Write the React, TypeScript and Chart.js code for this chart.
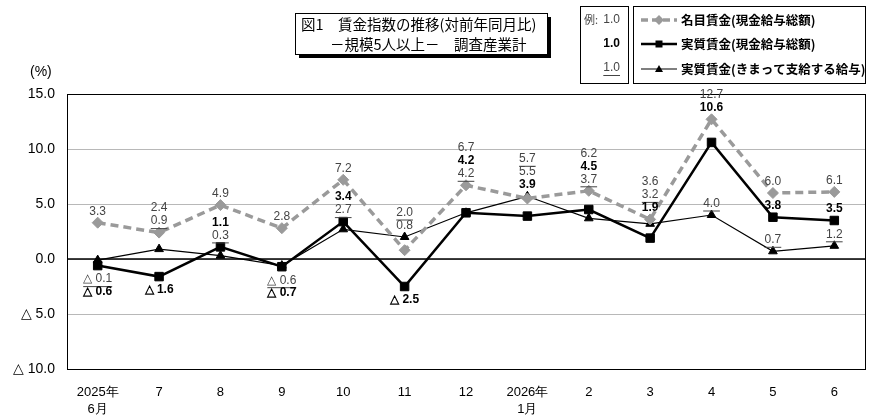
import React, { useEffect, useRef } from "react";
import { Chart, registerables } from "chart.js";

Chart.register(...registerables);

const categories = [
  ["2025年", "6月"],
  "7",
  "8",
  "9",
  "10",
  "11",
  "12",
  ["2026年", "1月"],
  "2",
  "3",
  "4",
  "5",
  "6",
];

// 名目賃金（現金給与総額）
const nominalWage = [3.3, 2.4, 4.9, 2.8, 7.2, 0.8, 6.7, 5.5, 6.2, 3.6, 12.7, 6.0, 6.1];
// 実質賃金（現金給与総額）
const realWage = [-0.6, -1.6, 1.1, -0.7, 3.4, -2.5, 4.2, 3.9, 4.5, 1.9, 10.6, 3.8, 3.5];
// 実質賃金（きまって支給する給与）
const realScheduled = [-0.1, 0.9, 0.3, -0.6, 2.7, 2.0, 4.2, 5.7, 3.7, 3.2, 4.0, 0.7, 1.2];

const yTicks = [15, 10, 5, 0, -5, -10];

const seriesNames = [
  "名目賃金(現金給与総額)",
  "実質賃金(現金給与総額)",
  "実質賃金(きまって支給する給与)",
];
const seriesValues = [nominalWage, realWage, realScheduled];

// which labels stack together per month (series index, top to bottom)
type Group = [number[], "up" | "down"];
const labelGroups: Group[][] = [
  [[[0], "up"], [[2, 1], "down"]],
  [[[0, 2], "up"], [[1], "down"]],
  [[[0], "up"], [[1, 2], "up"]],
  [[[0], "up"], [[2, 1], "down"]],
  [[[0], "up"], [[1, 2], "up"]],
  [[[2, 0], "up"], [[1], "down"]],
  [[[0, 1, 2], "up"]],
  [[[2, 0, 1], "up"]],
  [[[0, 1, 2], "up"]],
  [[[0, 2, 1], "up"]],
  [[[0, 1], "up"], [[2], "up"]],
  [[[0], "up"], [[1], "up"], [[2], "up"]],
  [[[0], "up"], [[1], "up"], [[2], "up"]],
];

const NUM_FONT = '"Liberation Sans", Arial, sans-serif';
const JP_FONT = '"Noto Sans CJK JP", "Noto Sans", sans-serif';
const GREY = "#9a9a9a";

const fmt = (v: number) => (v < 0 ? `△ ${Math.abs(v).toFixed(1)}` : v.toFixed(1));

function drawValue(ctx: CanvasRenderingContext2D, x: number, y: number, text: string, series: number, align: CanvasTextAlign = "center") {
  ctx.save();
  ctx.font = series === 1 ? `bold 12px ${NUM_FONT}` : `12px ${NUM_FONT}`;
  ctx.fillStyle = series === 1 ? "#000" : "#444";
  ctx.textAlign = align;
  ctx.textBaseline = "middle";
  ctx.fillText(text, x, y);
  if (series === 2) {
    const w = ctx.measureText(text).width;
    const x0 = align === "center" ? x - w / 2 : align === "right" ? x - w : x;
    ctx.strokeStyle = "#444";
    ctx.lineWidth = 1;
    ctx.beginPath();
    ctx.moveTo(x0, y + 7.5);
    ctx.lineTo(x0 + w, y + 7.5);
    ctx.stroke();
  }
  ctx.restore();
}

const framePlugin = {
  id: "frame",
  beforeDatasetsDraw(chart: any) {
    const { ctx, chartArea } = chart;
    ctx.save();
    ctx.strokeStyle = "#000";
    ctx.lineWidth = 1;
    ctx.strokeRect(chartArea.left + 0.5, chartArea.top + 0.5, chartArea.right - chartArea.left, chartArea.bottom - chartArea.top);
    const y0 = chart.scales.y.getPixelForValue(0);
    ctx.lineWidth = 1.5;
    ctx.beginPath();
    ctx.moveTo(chartArea.left, y0);
    ctx.lineTo(chartArea.right, y0);
    ctx.stroke();
    ctx.restore();
  },
};

const labelsPlugin = {
  id: "valueLabels",
  afterDatasetsDraw(chart: any) {
    const ctx = chart.ctx as CanvasRenderingContext2D;
    const gap = 11.5;
    const step = 13;
    labelGroups.forEach((groups, i) => {
      const x = chart.getDatasetMeta(0).data[i].x;
      groups.forEach(([series, dir]) => {
        const ys = series.map((s) => chart.getDatasetMeta(s).data[i].y);
        const n = series.length;
        series.forEach((s, k) => {
          const ty =
            dir === "up"
              ? Math.min(...ys) - gap - (n - 1 - k) * step
              : Math.max(...ys) + gap + 2 + k * (step - 0.5);
          drawValue(ctx, x, ty, fmt(seriesValues[s][i]), s);
        });
      });
    });
  },
};

const decorPlugin = {
  id: "decor",
  afterDraw(chart: any) {
    const ctx = chart.ctx as CanvasRenderingContext2D;
    ctx.save();

    // (%)
    ctx.fillStyle = "#000";
    ctx.font = `14px ${NUM_FONT}`;
    ctx.textBaseline = "middle";
    ctx.textAlign = "left";
    ctx.fillText("(%)", 30, 72);

    // title box
    ctx.fillStyle = "#000";
    ctx.fillRect(299, 54, 252, 4);
    ctx.fillRect(547, 17, 4, 41);
    ctx.fillStyle = "#fff";
    ctx.fillRect(295, 13, 252, 41);
    ctx.strokeStyle = "#000";
    ctx.lineWidth = 1;
    ctx.strokeRect(295.5, 13.5, 252, 41);
    ctx.fillStyle = "#000";
    ctx.font = `14.5px ${JP_FONT}`;
    ctx.fillText("図1　賃金指数の推移(対前年同月比)", 301, 24);
    ctx.fillText("－規模5人以上－　調査産業計", 330, 44);

    // legend: sample box
    ctx.strokeRect(580.5, 6.5, 48, 77);
    ctx.font = `11px ${JP_FONT}`;
    ctx.fillStyle = "#444";
    ctx.textAlign = "left";
    ctx.fillText("例:", 584, 20);
    drawValue(ctx, 620, 20, "1.0", 0, "right");
    drawValue(ctx, 620, 44, "1.0", 1, "right");
    drawValue(ctx, 620, 68, "1.0", 2, "right");

    // legend: series box
    ctx.strokeStyle = "#000";
    ctx.lineWidth = 1;
    ctx.strokeRect(633.5, 6.5, 232, 77);
    const rows = [20, 44, 69];
    rows.forEach((ry, s) => {
      ctx.save();
      ctx.beginPath();
      if (s === 0) {
        ctx.strokeStyle = GREY;
        ctx.lineWidth = 3.5;
        ctx.setLineDash([7, 4]);
      } else {
        ctx.strokeStyle = "#000";
        ctx.lineWidth = s === 1 ? 2.5 : 1.2;
      }
      ctx.moveTo(641, ry);
      ctx.lineTo(677, ry);
      ctx.stroke();
      ctx.setLineDash([]);
      ctx.fillStyle = s === 0 ? GREY : "#000";
      ctx.beginPath();
      if (s === 0) {
        ctx.moveTo(659, ry - 5);
        ctx.lineTo(664, ry);
        ctx.lineTo(659, ry + 5);
        ctx.lineTo(654, ry);
      } else if (s === 1) {
        ctx.rect(655.5, ry - 3.5, 7, 7);
      } else {
        ctx.moveTo(659, ry - 4);
        ctx.lineTo(663, ry + 3);
        ctx.lineTo(655, ry + 3);
      }
      ctx.closePath();
      ctx.fill();
      ctx.restore();
      ctx.fillStyle = "#000";
      ctx.font = `bold 12.5px ${JP_FONT}`;
      ctx.textAlign = "left";
      ctx.fillText(seriesNames[s], 681, ry);
    });

    ctx.restore();
  },
};

const App: React.FC = () => {
  const canvasRef = useRef<HTMLCanvasElement>(null);
  const chartRef = useRef<Chart | null>(null);

  useEffect(() => {
    if (!canvasRef.current) return;
    if (chartRef.current) chartRef.current.destroy();

    chartRef.current = new Chart(canvasRef.current, {
      type: "line",
      data: {
        labels: categories as any,
        datasets: [
          {
            label: seriesNames[0],
            data: nominalWage,
            borderColor: GREY,
            backgroundColor: GREY,
            borderWidth: 3.5,
            borderDash: [8, 5],
            pointStyle: "rectRot",
            pointRadius: 5.5,
            pointBackgroundColor: GREY,
            pointBorderColor: GREY,
            pointBorderWidth: 1,
            tension: 0,
          },
          {
            label: seriesNames[1],
            data: realWage,
            borderColor: "#000",
            backgroundColor: "#000",
            borderWidth: 2.5,
            pointStyle: "rect",
            pointRadius: 6,
            pointBackgroundColor: "#000",
            pointBorderColor: "#000",
            pointBorderWidth: 1,
            tension: 0,
          },
          {
            label: seriesNames[2],
            data: realScheduled,
            borderColor: "#000",
            backgroundColor: "#000",
            borderWidth: 1.2,
            pointStyle: "triangle",
            pointRadius: 5,
            pointBackgroundColor: "#000",
            pointBorderColor: "#000",
            pointBorderWidth: 1,
            tension: 0,
          },
        ],
      },
      options: {
        responsive: false,
        animation: false,
        devicePixelRatio: 1,
        layout: { padding: { top: 94, right: 25, left: 0, bottom: 0 } },
        plugins: {
          legend: { display: false },
          tooltip: { enabled: false },
        },
        scales: {
          x: {
            offset: true,
            grid: { display: false },
            border: { display: false },
            ticks: {
              color: "#000",
              font: { size: 13, family: NUM_FONT, lineHeight: 1.3 },
              padding: 7,
              maxRotation: 0,
              autoSkip: false,
            },
            afterFit: (s: any) => {
              s.height = 50;
            },
          },
          y: {
            min: -10,
            max: 15,
            afterBuildTicks: (s: any) => {
              s.ticks = yTicks.map((v) => ({ value: v }));
            },
            grid: {
              color: "#b8b8b8",
              lineWidth: 1,
              drawTicks: false,
            },
            border: { display: false },
            ticks: {
              color: "#000",
              font: { size: 14, family: NUM_FONT },
              padding: 12,
              callback: (v: any) => fmt(Number(v)),
            },
            afterFit: (s: any) => {
              s.width = 67;
            },
          },
        },
      },
      plugins: [framePlugin, labelsPlugin, decorPlugin],
    });

    return () => {
      if (chartRef.current) {
        chartRef.current.destroy();
        chartRef.current = null;
      }
    };
  }, []);

  return (
    <div style={{ position: "absolute", left: 0, top: 0, width: 890, height: 419, background: "#fff" }}>
      <canvas ref={canvasRef} width={890} height={419} style={{ width: "890px", height: "419px" }} />
    </div>
  );
};

export default App;
